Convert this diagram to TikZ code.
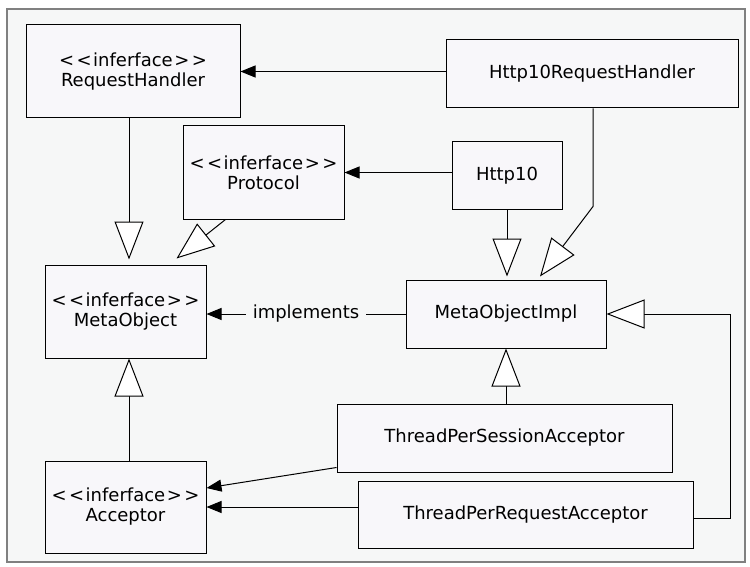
\documentclass[tikz,border=0pt]{standalone}
\usepackage{fontspec}
\setmainfont{DejaVu Sans}
\usetikzlibrary{arrows.meta,calc}
\definecolor{bgfill}{HTML}{F6F7F7}
\definecolor{boxfill}{HTML}{F8F7FA}
\definecolor{framegray}{HTML}{808080}
\tikzset{
  txt/.style={font=\fontsize{18}{20}\selectfont},
  cls/.style={draw=black, fill=boxfill, line width=1pt, align=center,
    inner sep=0pt, txt},
  assoc/.style={line width=1pt, -{Triangle[length=15pt,width=12pt]}},
  gen/.style={line width=1pt, -{Triangle[open,length=38pt,width=29pt,fill=white]}},
}
% kerns keep the angle brackets from merging into guillemets
\newcommand{\stereo}{<\kern2.5pt<\kern1.5pt inferface\kern1.5pt>\kern2.5pt>}
\begin{document}
\begin{tikzpicture}[x=1pt,y=-1pt]
\useasboundingbox (0,0) rectangle (750,567);
\draw[framegray, fill=bgfill, line width=1.2pt] (7,9) rectangle (745,562);

\node[cls, minimum width=214pt, minimum height=93pt] (rh) at (133,71.5) {\stereo\\RequestHandler};
\node[cls, minimum width=161pt, minimum height=93pt] (proto) at (263.5,172.5) {\stereo\\Protocol};
\node[cls, minimum width=292pt, minimum height=68pt] (hrh) at (592,74) {Http10RequestHandler};
\node[cls, minimum width=110pt, minimum height=67pt] (http) at (507,175.5) {Http10};
\node[cls, minimum width=161pt, minimum height=93pt] (mo) at (125.5,311.5) {\stereo\\MetaObject};
\node[cls, minimum width=200pt, minimum height=68pt] (moi) at (506,314) {MetaObjectImpl};
\node[cls, minimum width=335pt, minimum height=68pt] (tpsa) at (504.5,438) {ThreadPerSessionAcceptor};
\node[cls, minimum width=335pt, minimum height=67pt] (tpra) at (525.5,514.5) {ThreadPerRequestAcceptor};
\node[cls, minimum width=161pt, minimum height=92pt] (acc) at (125.5,507) {\stereo\\Acceptor};

% associations
\draw[assoc] (hrh.west |- rh.east) -- (rh.east);
\draw[assoc] (http.west |- proto.east) -- (proto.east);
\draw[assoc] ([yshift=5pt]tpsa.south west) -- ([yshift=19pt]acc.east);
\draw[assoc] (tpra.west |- acc.east) -- (acc.east);
\draw[assoc] (moi.west) -- (moi.west -| mo.east)
  node[midway, fill=bgfill, inner xsep=7pt, inner ysep=2pt, txt] {implements};

% generalizations
\draw[gen, shorten >=5pt] ([xshift=-4pt]rh.south) -- ([xshift=-4pt]rh.south |- mo.north);
\draw[gen] ([xshift=43pt]proto.south west) -- ([xshift=-30pt,yshift=6pt]mo.north east);
\draw[gen, shorten >=3pt] (http.south) -- (http.south |- moi.north);
\draw[gen] ([xshift=1pt]hrh.south) -- ++(0,98) -- ([xshift=34pt,yshift=3pt]moi.north);
\draw[gen] ([xshift=1.5pt]tpsa.north) -- ([xshift=1.5pt]tpsa.north |- moi.south);
\draw[gen] ([xshift=3.5pt]acc.north) -- ([xshift=3.5pt]mo.south);
\draw[gen] ([yshift=-3.5pt]tpra.east) -- ++(37,0) |- (moi.east);
\end{tikzpicture}
\end{document}
